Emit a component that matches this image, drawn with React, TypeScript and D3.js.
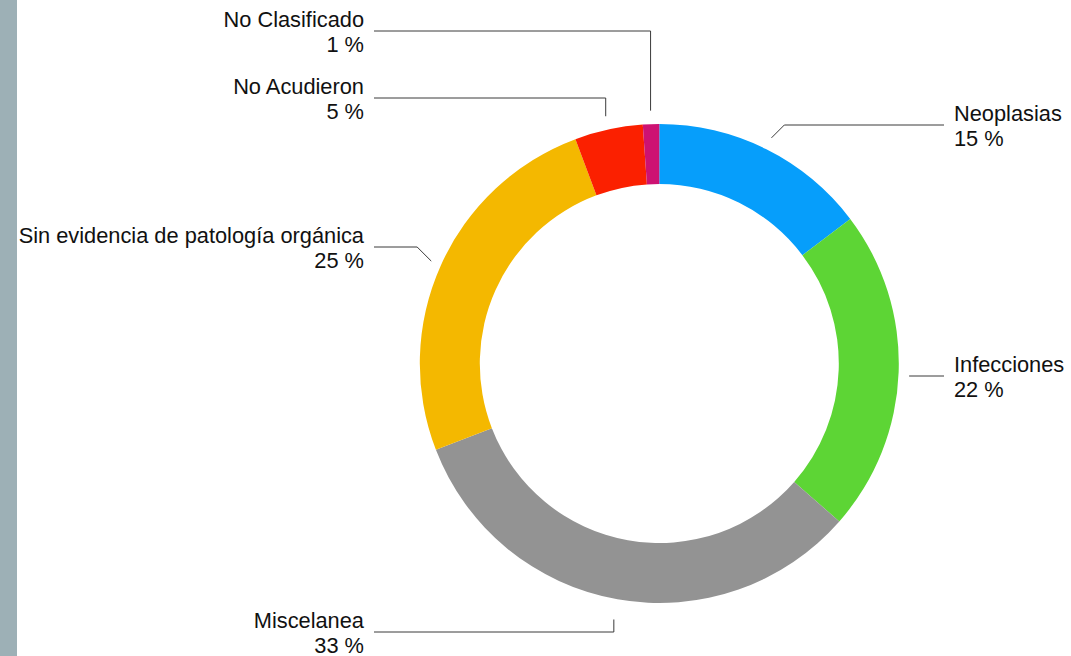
import { useRef, useEffect } from 'react';
import * as d3 from 'd3';

// categories in clockwise order from 12 o'clock
const categories = ['Neoplasias', 'Infecciones', 'Miscelanea', 'Sin evidencia de patología orgánica', 'No Acudieron', 'No Clasificado'];
const shares = [14.7, 21.8, 32.7, 25.2, 4.6, 1.1];
const colors = ['#069efb', '#5dd535', '#939393', '#f4b800', '#fb2000', '#cd1272'];

// label layout: line y, elbow type, start radius
const labelLayout: any = {
    'Neoplasias': { y: 125, kind: 'diag', r: 252 },
    'Infecciones': { y: 376, kind: 'flat', r: 250 },
    'Miscelanea': { y: 632, kind: 'vert', r: 260 },
    'Sin evidencia de patología orgánica': { y: 247, kind: 'diag', r: 250 },
    'No Acudieron': { y: 98, kind: 'vert', r: 253 },
    'No Clasificado': { y: 31, kind: 'vert', r: 253 },
};

const App = () => {
    const ref = useRef<SVGSVGElement>(null);

    useEffect(() => {
        document.body.style.margin = '0';
        const width = 1071;
        const height = 656;
        const cx = 659.3;
        const cy = 363.5;
        const outerR = 239.5;
        const innerR = 179.5;

        const svg = d3.select(ref.current);
        svg.selectAll('*').remove();
        svg.attr('width', width).attr('height', height).attr('viewBox', [0, 0, width, height] as any);

        svg.append('rect').attr('x', 0).attr('y', 0).attr('width', 17).attr('height', height).attr('fill', '#9db0b6');

        const data = categories.map((c, i) => ({ name: c, value: shares[i], color: colors[i] }));
        const pie = d3.pie<any>().value((d: any) => d.value).sort(null);
        const arcs = pie(data);
        const arc = d3.arc<any>().innerRadius(innerR).outerRadius(outerR);

        const g = svg.append('g').attr('transform', `translate(${cx},${cy})`);
        g.selectAll('path.slice')
            .data(arcs)
            .enter().append('path')
            .attr('class', 'slice')
            .attr('fill', (d: any) => d.data.color)
            .attr('d', arc as any);

        const total = d3.sum(shares);
        const font = '"Liberation Sans", Arial, Helvetica, sans-serif';

        arcs.forEach((a: any) => {
            const lay = labelLayout[a.data.name];
            const mid = (a.startAngle + a.endAngle) / 2;
            const px = cx + lay.r * Math.sin(mid);
            const py = cy - lay.r * Math.cos(mid);
            const right = Math.sin(mid) > 0;
            const side = right ? 1 : -1;
            let ex = px;
            if (lay.kind === 'diag') ex = px + side * Math.abs(lay.y - py);
            const lineEnd = right ? 944 : 374;
            const pts: [number, number][] = lay.kind === 'flat'
                ? [[px, lay.y], [lineEnd, lay.y]]
                : [[px, py], [ex, lay.y], [lineEnd, lay.y]];
            svg.append('path')
                .attr('d', d3.line()(pts))
                .attr('fill', 'none')
                .attr('stroke', '#3a3a3a')
                .attr('stroke-width', 1);

            const tx = right ? 954 : 364;
            const t = svg.append('text')
                .attr('x', tx)
                .attr('y', lay.y - 4)
                .attr('text-anchor', right ? 'start' : 'end')
                .attr('font-family', font)
                .attr('font-size', 21.8)
                .attr('fill', '#111');
            t.append('tspan').attr('x', tx).text(a.data.name);
            t.append('tspan').attr('x', tx).attr('dy', 24.5).text(`${Math.round(a.data.value / total * 100)} %`);
        });
    }, []);

    return (
        <div>
            <svg ref={ref}></svg>
        </div>
    );
};

export default App;
